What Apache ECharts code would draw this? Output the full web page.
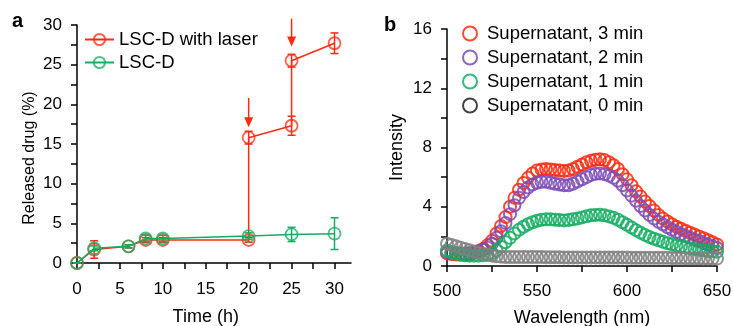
<!DOCTYPE html>
<html>
<head>
    <meta charset="UTF-8">
    <title>Drug release and supernatant spectra</title>
    <script src="https://cdn.jsdelivr.net/npm/echarts@6.0.0/dist/echarts.min.js"></script>
    <style>
        html, body { margin: 0; padding: 0; background: #fff; }
    </style>
</head>
<body>
    <div id="main" style="width: 733px; height: 326px;"></div>
    <script>
        // panel a: release over time
        const laserTime = [0, 2, 6, 8, 10, 20, 20, 25, 25, 30];
        const laserVals = [0, 1.7, 2.1, 2.9, 2.9, 2.9, 15.8, 17.3, 25.5, 27.7];
        const laserErr = [0, 1.1, 0.2, 0.3, 0.3, 0.3, 0.8, 1.2, 0.8, 1.3];
        const ctrlTime = [0, 2, 6, 8, 10, 20, 25, 30];
        const ctrlVals = [0, 1.85, 2.1, 3.1, 3.1, 3.4, 3.6, 3.7];
        const ctrlErr = [0, 0.3, 0.2, 0.4, 0.4, 0.4, 0.9, 2.0];
        // laser arrows: [time, start, tip]
        const laserArrows = [[20, 20.8, 17.1], [25, 30.8, 27.3]];

        // panel b: spectra
        const wavelength = [
            500, 502.5, 505, 507.5, 510, 512.5, 515, 517.5, 520, 522.5,
            525, 527.5, 530, 532.5, 535, 537.5, 540, 542.5, 545, 547.5,
            550, 552.5, 555, 557.5, 560, 562.5, 565, 567.5, 570, 572.5,
            575, 577.5, 580, 582.5, 585, 587.5, 590, 592.5, 595, 597.5,
            600, 602.5, 605, 607.5, 610, 612.5, 615, 617.5, 620, 622.5,
            625, 627.5, 630, 632.5, 635, 637.5, 640, 642.5, 645, 647.5, 650
        ];
        const min3 = [
            0.85, 0.8, 0.78, 0.76, 0.76, 0.8, 0.88, 1.0, 1.15, 1.4,
            1.7, 2.2, 2.7, 3.3, 4.0, 4.6, 5.15, 5.6, 5.95, 6.25,
            6.45, 6.52, 6.55, 6.52, 6.48, 6.45, 6.42, 6.45, 6.55, 6.7,
            6.85, 7.0, 7.1, 7.17, 7.2, 7.15, 7.0, 6.8, 6.55, 6.2,
            5.85, 5.45, 5.05, 4.7, 4.35, 4.05, 3.75, 3.45, 3.2, 3.0,
            2.82, 2.65, 2.52, 2.38, 2.25, 2.12, 2.0, 1.87, 1.74, 1.6, 1.45
        ];
        const min2 = [
            0.95, 0.9, 0.87, 0.85, 0.85, 0.87, 0.92, 1.0, 1.08, 1.25,
            1.5, 1.9, 2.35, 2.9, 3.5, 4.1, 4.6, 5.0, 5.3, 5.5,
            5.62, 5.68, 5.68, 5.62, 5.55, 5.5, 5.45, 5.45, 5.55, 5.7,
            5.85, 6.0, 6.15, 6.22, 6.25, 6.2, 6.1, 5.95, 5.75, 5.45,
            5.1, 4.75, 4.4, 4.05, 3.75, 3.45, 3.2, 2.98, 2.8, 2.62,
            2.45, 2.3, 2.15, 2.02, 1.9, 1.78, 1.68, 1.56, 1.45, 1.33, 1.22
        ];
        const min1 = [
            1.05, 0.95, 0.85, 0.78, 0.73, 0.7, 0.7, 0.7, 0.72, 0.76,
            0.85, 1.05, 1.3, 1.6, 1.9, 2.2, 2.45, 2.65, 2.82, 2.95,
            3.05, 3.12, 3.15, 3.15, 3.12, 3.1, 3.08, 3.1, 3.15, 3.2,
            3.28, 3.36, 3.42, 3.45, 3.46, 3.42, 3.35, 3.25, 3.12, 2.95,
            2.78, 2.6, 2.42, 2.25, 2.1, 1.96, 1.84, 1.73, 1.63, 1.54,
            1.46, 1.39, 1.32, 1.26, 1.2, 1.15, 1.1, 1.06, 1.02, 0.99, 0.96
        ];
        const min0 = [
            1.5, 1.42, 1.33, 1.24, 1.15, 1.06, 0.98, 0.9, 0.83, 0.76,
            0.7, 0.66, 0.63, 0.61, 0.6, 0.6, 0.6, 0.6, 0.6, 0.6,
            0.6, 0.6, 0.59, 0.59, 0.59, 0.59, 0.58, 0.58, 0.58, 0.58,
            0.58, 0.58, 0.58, 0.58, 0.57, 0.57, 0.57, 0.57, 0.57, 0.57,
            0.57, 0.56, 0.56, 0.56, 0.56, 0.56, 0.55, 0.55, 0.55, 0.55,
            0.54, 0.54, 0.54, 0.53, 0.53, 0.52, 0.52, 0.51, 0.51, 0.5, 0.5
        ];

        const RED = '#ff2a10';
        const GREEN = '#13ad62';
        const PURPLE = '#7c4bb6';
        const GRAY = '#808080';
        const FONT = 'Liberation Sans, Arial, sans-serif';

        const pair = (xs, ys) => xs.map((x, i) => [x, ys[i]]);
        const errData = (xs, ys, es) => xs.map((x, i) => [x, ys[i] - es[i], ys[i] + es[i]]);

        function errorBar(color) {
            return function (params, api) {
                const x = api.value(0);
                const lo = api.coord([x, api.value(1)]);
                const hi = api.coord([x, api.value(2)]);
                const w = 4;
                const st = { stroke: color, lineWidth: 1.5 };
                return {
                    type: 'group',
                    children: [
                        { type: 'line', shape: { x1: lo[0], y1: lo[1], x2: hi[0], y2: hi[1] }, style: st },
                        { type: 'line', shape: { x1: lo[0] - w, y1: lo[1], x2: lo[0] + w, y2: lo[1] }, style: st },
                        { type: 'line', shape: { x1: hi[0] - w, y1: hi[1], x2: hi[0] + w, y2: hi[1] }, style: st }
                    ]
                };
            };
        }

        function arrow(params, api) {
            const x = api.value(0);
            const top = api.coord([x, api.value(1)]);
            const tip = api.coord([x, api.value(2)]);
            const headLen = 10, half = 4.5;
            return {
                type: 'group',
                children: [
                    { type: 'line', shape: { x1: top[0], y1: top[1], x2: tip[0], y2: tip[1] - headLen + 1 },
                      style: { stroke: RED, lineWidth: 1.5 } },
                    { type: 'polygon', shape: { points: [[tip[0], tip[1]], [tip[0] - half, tip[1] - headLen], [tip[0] + half, tip[1] - headLen]] },
                      style: { fill: RED } }
                ]
            };
        }

        // axis carrying line, ticks and name (no labels: labels hide the ticks under them)
        function tickAxis(grid, pos, min, max, step, name, gap) {
            return {
                gridIndex: grid, position: pos, type: 'value', min: min, max: max, interval: step,
                axisLine: { show: true, onZero: false, lineStyle: { color: '#000', width: 1.5 } },
                axisTick: { show: true, length: 6, lineStyle: { color: '#000', width: 1.5 } },
                axisLabel: { show: false },
                splitLine: { show: false },
                name: name, nameGap: gap, nameLocation: 'middle',
                nameTextStyle: { color: '#000', fontSize: 18, fontFamily: FONT }
            };
        }

        // overlapping axis that only writes the tick labels
        function labelAxis(grid, pos, min, max, step, margin) {
            return {
                gridIndex: grid, position: pos, type: 'value', min: min, max: max, interval: step,
                axisLine: { show: false, onZero: false }, axisTick: { show: false }, splitLine: { show: false },
                axisLabel: { color: '#000', fontSize: 17, fontFamily: FONT, margin: margin }
            };
        }

        function spectrum(name, vals, color) {
            return {
                name: name,
                type: 'scatter',
                xAxisIndex: 1,
                yAxisIndex: 1,
                symbol: 'circle',
                symbolSize: 12,
                data: pair(wavelength, vals),
                itemStyle: { color: 'rgba(255,255,255,0)', borderColor: color, borderWidth: 2, opacity: 0.85 },
                emphasis: { disabled: true }
            };
        }

        const xTimeTicks = tickAxis(0, 'bottom', 0, 30, 2.5, 'Time (h)', 45);
        xTimeTicks.axisLine.show = false;
        const yRelease = tickAxis(0, 'left', 0, 30, 2.5, 'Released drug (%)', 39);
        yRelease.nameTextStyle = { color: '#000', fontSize: 16, fontFamily: FONT, padding: [0, 28, 0, 0] };

        const option = {
            animation: false,
            textStyle: { fontFamily: FONT },
            graphic: [
                { type: 'text', left: 12, top: 11, style: { text: 'a', font: 'bold 20px ' + FONT, fill: '#000' } },
                { type: 'text', left: 384, top: 15, style: { text: 'b', font: 'bold 20px ' + FONT, fill: '#000' } }
            ],
            legend: [
                {
                    left: 84, top: 30, padding: 0, orient: 'vertical', itemGap: 4,
                    itemWidth: 29, itemHeight: 14,
                    textStyle: { fontSize: 18.5, color: '#000', fontFamily: FONT },
                    data: ['LSC-D with laser', 'LSC-D']
                },
                {
                    left: 462, top: 24, padding: 0, orient: 'vertical', itemGap: 5,
                    itemWidth: 14, itemHeight: 14, icon: 'circle',
                    textStyle: { fontSize: 18.5, color: '#000', fontFamily: FONT, padding: [0, 0, 0, 5] },
                    data: [
                        { name: 'Supernatant, 3 min', itemStyle: { color: '#fff', borderColor: RED, borderWidth: 2 } },
                        { name: 'Supernatant, 2 min', itemStyle: { color: '#fff', borderColor: PURPLE, borderWidth: 2 } },
                        { name: 'Supernatant, 1 min', itemStyle: { color: '#fff', borderColor: GREEN, borderWidth: 2 } },
                        { name: 'Supernatant, 0 min', itemStyle: { color: '#fff', borderColor: '#222', borderWidth: 2 } }
                    ]
                }
            ],
            grid: [
                { left: 77, top: 25, width: 257.5, height: 238, outerBoundsMode: 'none' },
                { left: 447, top: 29, width: 270, height: 237, outerBoundsMode: 'none' },
                // same place as grid 0, a bit wider: only carries the longer time axis line
                { left: 77, top: 25, width: 274, height: 238, outerBoundsMode: 'none' }
            ],
            xAxis: [
                xTimeTicks,
                tickAxis(1, 'bottom', 500, 650, 25, 'Wavelength (nm)', 43),
                {
                    gridIndex: 2, position: 'bottom', type: 'value', min: 0, max: 32,
                    axisLine: { show: true, onZero: false, lineStyle: { color: '#000', width: 1.5 } },
                    axisTick: { show: false }, axisLabel: { show: false }, splitLine: { show: false }
                },
                labelAxis(0, 'bottom', 0, 30, 5, 18),
                labelAxis(1, 'bottom', 500, 650, 50, 17)
            ],
            yAxis: [
                yRelease,
                tickAxis(1, 'left', 0, 16, 2, 'Intensity', 41),
                { gridIndex: 2, position: 'left', type: 'value', min: 0, max: 30, show: false },
                labelAxis(0, 'left', 0, 30, 5, 15),
                labelAxis(1, 'left', 0, 16, 4, 15)
            ],
            series: [
                {
                    name: 'LSC-D with laser',
                    type: 'line',
                    xAxisIndex: 0, yAxisIndex: 0,
                    data: pair(laserTime, laserVals),
                    symbol: 'circle', symbolSize: 12,
                    lineStyle: { color: RED, width: 1.5 },
                    itemStyle: { color: 'rgba(255,255,255,0)', borderColor: RED, borderWidth: 1.8, opacity: 0.75 },
                    emphasis: { disabled: true },
                    clip: false,
                    z: 3
                },
                {
                    name: 'LSC-D',
                    type: 'line',
                    xAxisIndex: 0, yAxisIndex: 0,
                    data: pair(ctrlTime, ctrlVals),
                    symbol: 'circle', symbolSize: 12,
                    lineStyle: { color: GREEN, width: 1.5 },
                    itemStyle: { color: 'rgba(255,255,255,0)', borderColor: GREEN, borderWidth: 1.8, opacity: 0.75 },
                    emphasis: { disabled: true },
                    clip: false,
                    z: 4
                },
                {
                    name: 'laser err',
                    type: 'custom',
                    xAxisIndex: 0, yAxisIndex: 0,
                    clip: false,
                    renderItem: errorBar(RED),
                    data: errData(laserTime, laserVals, laserErr),
                    z: 3
                },
                {
                    name: 'ctrl err',
                    type: 'custom',
                    xAxisIndex: 0, yAxisIndex: 0,
                    clip: false,
                    renderItem: errorBar(GREEN),
                    data: errData(ctrlTime, ctrlVals, ctrlErr),
                    z: 4
                },
                {
                    name: 'laser arrows',
                    type: 'custom',
                    xAxisIndex: 0, yAxisIndex: 0,
                    clip: false,
                    renderItem: arrow,
                    data: laserArrows,
                    z: 5
                },
                spectrum('Supernatant, 3 min', min3, RED),
                spectrum('Supernatant, 2 min', min2, PURPLE),
                spectrum('Supernatant, 1 min', min1, GREEN),
                spectrum('Supernatant, 0 min', min0, GRAY)
            ]
        };

        const myChart = echarts.init(document.getElementById('main'));
        myChart.setOption(option);
    </script>
</body>
</html>
